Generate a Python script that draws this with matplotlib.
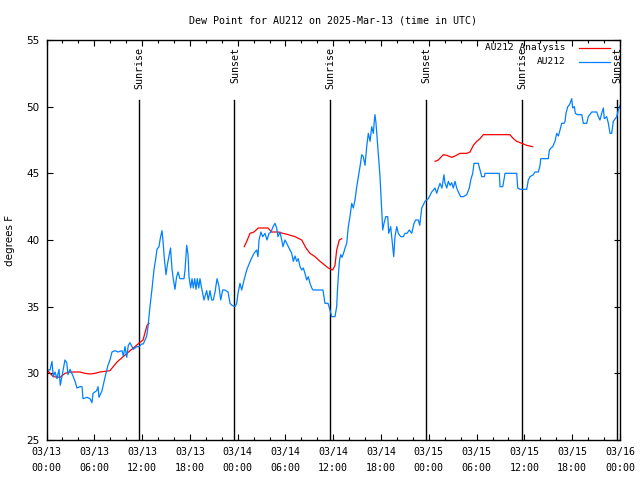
import numpy as np
import matplotlib
matplotlib.use('Agg')
import matplotlib.pyplot as plt

# hours since 2025-03-13 00:00 UTC
obs_hours = [0.06, 0.44, 0.69, 0.85, 1.07, 1.32, 1.57, 1.73, 1.95, 2.32, 2.54, 2.70, 2.95, 3.33,
             3.58, 3.83, 4.21, 4.46, 4.58, 5.08, 5.46, 5.71, 5.84, 6.30, 6.47, 6.59, 6.97, 7.34,
             7.72, 7.97, 8.22, 8.60, 8.98, 9.48, 9.64, 9.86, 10.07, 10.27, 10.48, 10.90, 11.32,
             11.61, 11.95, 12.15, 12.37, 12.58, 12.74, 12.99, 13.24, 13.50, 13.69, 13.87, 14.12,
             14.31, 14.50, 14.63, 14.81, 15.00, 15.19, 15.38, 15.57, 15.76, 15.94, 16.13, 16.32,
             16.51, 16.76, 17.26, 17.39, 17.60, 17.77, 17.89, 18.10, 18.27, 18.43, 18.61, 18.77,
             18.93, 19.11, 19.27, 19.44, 19.77, 20.11, 20.31, 20.53, 20.74, 20.94, 21.16, 21.41,
             21.66, 21.87, 22.12, 22.41, 22.79, 23.04, 23.29, 23.67, 23.88, 24.04, 24.29, 24.50,
             24.80, 25.14, 25.30, 25.64, 26.05, 26.39, 26.55, 26.68, 26.93, 27.14, 27.43, 27.68,
             27.94, 28.19, 28.44, 28.69, 28.90, 29.06, 29.31, 29.53, 29.69, 29.94, 30.16, 30.36,
             30.57, 30.78, 30.99, 31.20, 31.41, 31.61, 31.83, 32.04, 32.24, 32.45, 32.67, 32.87,
             33.08, 33.30, 33.46, 34.71, 34.96, 35.34, 35.59, 35.81, 36.22, 36.43, 36.53, 36.66,
             36.79, 36.94, 37.10, 37.29, 37.48, 37.69, 37.89, 38.10, 38.32, 38.52, 38.73, 38.95,
             39.15, 39.36, 39.57, 39.77, 39.99, 40.20, 40.40, 40.62, 40.83, 41.03, 41.16, 41.24,
             41.37, 41.53, 41.66, 41.87, 42.08, 42.21, 42.37, 42.59, 42.84, 42.96, 43.21, 43.42,
             43.59, 43.75, 43.97, 44.17, 44.47, 44.80, 45.01, 45.26, 45.55, 45.85, 46.14, 46.35,
             46.68, 46.86, 47.11, 47.52, 47.94, 48.36, 48.78, 48.99, 49.19, 49.40, 49.65, 49.90,
             50.02, 50.25, 50.45, 50.66, 50.87, 51.07, 51.29, 51.50, 51.70, 52.00, 52.33, 52.76,
             53.08, 53.26, 53.51, 53.67, 54.21, 54.43, 54.64, 54.97, 55.05, 56.85, 56.94, 57.28,
             57.57, 59.03, 59.16, 59.45, 60.29, 60.49, 60.70, 61.12, 61.33, 61.75, 61.96, 62.05,
             63.00, 63.13, 63.34, 63.55, 63.84, 64.06, 64.26, 64.47, 64.68, 64.97, 65.10, 65.22,
             65.44, 65.60, 65.73, 65.94, 66.06, 66.27, 66.39, 66.64, 67.20, 67.40, 67.82, 68.02,
             68.45, 69.08, 69.28, 69.49, 69.70, 69.91, 70.03, 70.33, 70.54, 70.75, 70.96, 71.16,
             71.59, 71.79, 72.00]
obs_dewp = [30.25, 30.25, 30.9, 29.75, 30.1, 29.6, 30.3, 29.1, 29.8, 31.0, 30.8, 29.9, 30.3, 29.8,
            29.4, 28.9, 29.0, 29.0, 28.1, 28.2, 28.1, 27.8, 28.5, 28.7, 29.0, 28.2, 28.7, 29.7,
            30.6, 31.0, 31.6, 31.7, 31.6, 31.7, 31.3, 32.0, 31.2, 32.1, 32.3, 31.8, 32.0,
            32.0, 32.2, 32.2, 32.5, 32.8, 33.5, 35.0, 36.3, 37.8, 38.5, 39.3, 39.5,
            40.2, 40.7, 39.9, 38.5, 37.4, 38.2, 38.8, 39.4, 37.8, 37.0, 36.3, 37.2,
            37.6, 37.1, 37.1, 37.75, 39.6, 38.9, 37.25, 36.4, 37.1, 36.4, 37.1, 36.3,
            37.1, 36.4, 37.1, 36.5, 35.5, 36.2, 35.5, 36.2, 35.5, 35.5, 36.1, 37.1,
            36.5, 35.5, 36.25, 36.25, 36.1, 35.25, 35.1, 35.0, 35.25, 36.0, 36.75, 36.25,
            37.0, 37.75, 38.0, 38.5, 39.0, 39.25, 38.75, 40.0, 40.6, 40.25, 40.5, 40.0,
            40.5, 40.6, 41.0, 41.25, 40.9, 40.25, 40.6, 40.0, 39.5, 40.0, 39.75, 39.5,
            39.25, 39.0, 38.4, 38.8, 38.4, 38.6, 38.0, 37.75, 37.9, 37.5, 37.0, 37.25,
            36.75, 36.4, 36.25, 36.25, 35.25, 35.25, 34.75, 34.25, 34.25, 35.0, 36.25, 37.5,
            38.5, 38.9, 38.7, 39.0, 39.4, 39.75, 41.0, 41.75, 42.75, 42.4, 43.0, 44.0,
            44.75, 45.5, 46.4, 46.25, 45.6, 47.0, 48.0, 47.4, 48.5, 48.0, 49.0, 49.4,
            48.75, 47.5, 46.5, 44.75, 42.25, 40.75, 41.25, 41.75, 41.75, 40.5, 41.0, 39.75,
            38.75, 40.25, 41.0, 40.5, 40.25, 40.25, 40.5, 40.5, 40.75, 40.5, 41.25, 41.5,
            41.5, 41.1, 42.4, 42.9, 43.1, 43.6, 43.9, 43.5, 43.9, 44.25, 43.9, 44.9,
            44.3, 43.9, 44.4, 44.1, 44.3, 43.9, 44.4, 43.9, 43.6, 43.25, 43.25, 43.4,
            43.9, 44.5, 45.0, 45.75, 45.75, 45.25, 44.75, 44.75, 45.0, 45.0, 44.0, 44.0,
            45.0, 45.0, 43.9, 43.8, 43.8, 44.5, 44.75, 44.9, 45.1, 45.1, 45.6, 46.1,
            46.1, 46.75, 46.9, 47.0, 47.4, 48.0, 47.8, 48.25, 48.75, 48.75, 48.9, 49.5,
            50.0, 50.1, 50.25, 50.6, 49.9, 50.0, 49.5, 49.4, 49.4, 48.75, 48.75, 49.25,
            49.6, 49.6, 49.25, 49.0, 49.5, 49.9, 49.1, 49.25, 48.75, 48.0, 48.0, 48.9,
            49.25, 49.75, 50.1]

# analysis, nan separates the three runs
ana_hours = [0.06, 0.85, 1.69, 2.32, 2.95, 4.21, 4.83, 5.46, 6.09, 6.72, 7.97, 8.85, 10.11, 11.49,
             12.12, 12.62, 12.87, np.nan,
             24.83, 25.14, 25.55, 26.05, 26.59, 27.81, 28.27, 29.06, 29.69, 30.36, 31.20, 32.04,
             32.58, 33.08, 33.71, 34.34, 34.96, 35.38, 35.93, 36.22, 36.43, 36.76, 37.06, np.nan,
             48.78, 49.19, 49.82, 50.25, 50.87, 51.29, 51.92, 52.76, 53.17, 53.59, 54.01, 54.43,
             54.84, 56.52, 58.19, 58.61, 59.03, 59.45, 60.29, 61.04]
ana_dewp = [30.25, 29.75, 29.7, 30.0, 30.1, 30.1, 30.0, 29.95, 30.0, 30.1, 30.2, 30.85, 31.5, 32.2,
            32.5, 33.6, 33.75, np.nan,
            39.5, 39.9, 40.5, 40.6, 40.9, 40.9, 40.6, 40.6, 40.5, 40.4, 40.25, 40.0,
            39.4, 39.0, 38.75, 38.4, 38.1, 37.9, 37.75, 38.1, 39.25, 40.0, 40.1, np.nan,
            45.9, 46.0, 46.4, 46.35, 46.2, 46.3, 46.5, 46.5, 46.6, 47.1, 47.4, 47.6,
            47.9, 47.9, 47.9, 47.6, 47.4, 47.3, 47.1, 47.0]

sun_hours = [11.6, 23.55, 35.6, 47.65, 59.7, 71.63]
sun_names = ['Sunrise', 'Sunset', 'Sunrise', 'Sunset', 'Sunrise', 'Sunset']

tick_hours = list(range(0, 73, 6))
tick_labels = ['03/13\n00:00', '03/13\n06:00', '03/13\n12:00', '03/13\n18:00',
               '03/14\n00:00', '03/14\n06:00', '03/14\n12:00', '03/14\n18:00',
               '03/15\n00:00', '03/15\n06:00', '03/15\n12:00', '03/15\n18:00',
               '03/16\n00:00']

mono = 'DejaVu Sans Mono'
fs = 7.2

fig = plt.figure(figsize=(6.4, 4.8), dpi=100)
ax = fig.add_axes([46.5 / 640, 40 / 480, 573.5 / 640, 400 / 480])

for h, name in zip(sun_hours, sun_names):
    ax.plot([h, h], [25, 50.5], color='black', lw=1.0)
    ax.text(h + 0.1, 54.45, name, rotation=90, ha='center', va='top',
            family=mono, fontsize=fs)

ax.plot(ana_hours, ana_dewp, color='#ff0000', lw=0.9)
ax.plot(obs_hours, obs_dewp, color='#0080ff', lw=0.9)

ax.set_xlim(0, 72)
ax.set_ylim(25, 55)
ax.set_xticks(tick_hours)
ax.set_xticklabels(tick_labels, family=mono, fontsize=fs)
for lbl in ax.get_xticklabels():
    lbl.set_linespacing(1.75)
ax.set_xticks(np.arange(0, 73, 2), minor=True)
ax.set_yticks(np.arange(25, 56, 5))
ax.tick_params(axis='y', labelsize=7.5)
ax.tick_params(which='both', direction='in', top=True, right=True, width=0.8)
ax.tick_params(which='major', length=4.5, pad=5)
ax.tick_params(which='minor', length=2.3)
for sp in ax.spines.values():
    sp.set_linewidth(1.0)

ax.set_ylabel('degrees F', fontsize=7.5, labelpad=8)
ax.set_title('Dew Point for AU212 on 2025-Mar-13 (time in UTC)', family=mono,
             fontsize=fs, pad=12)

# legend drawn gnuplot-style: text right-justified, sample line on the right
leg = [('AU212 Analysis', '#ff0000', 54.4), ('AU212', '#0080ff', 53.35)]
for label, col, yv in leg:
    ax.text(0.905, (yv - 25) / 30, label, transform=ax.transAxes, ha='right', va='center',
            family=mono, fontsize=6.8)
    ax.plot([0.928, 0.982], [(yv - 25) / 30] * 2, transform=ax.transAxes, color=col, lw=0.9)

fig.savefig('out.png', dpi=100)
